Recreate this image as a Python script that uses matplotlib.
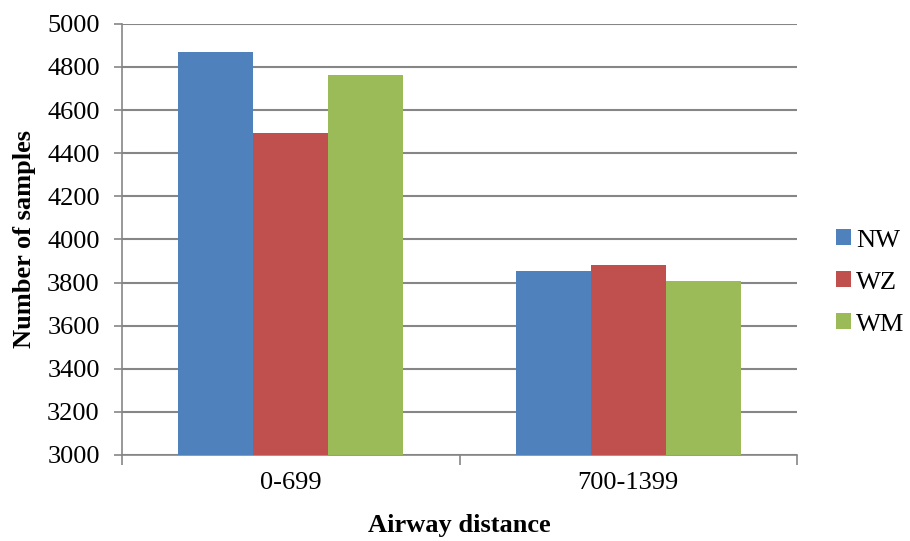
import numpy as np
import matplotlib.pyplot as plt
from matplotlib.ticker import FixedLocator

plt.rcParams['font.family'] = ['Liberation Serif', 'DejaVu Serif']

categories = ['0-699', '700-1399']
series = ['NW', 'WZ', 'WM']
values = {
    'NW': [4867, 3852],
    'WZ': [4495, 3882],
    'WM': [4763, 3809],
}
colors = ['#4F81BD', '#C0504D', '#9BBB59']

fig = plt.figure(figsize=(9.1, 5.41), dpi=100)
ax = fig.add_axes([0.134, 0.159, 0.742, 0.797])

x = np.arange(len(categories))
w = 1 / 4.5
for i, (name, c) in enumerate(zip(series, colors)):
    ax.bar(x + (i - 1) * w, values[name], width=w, color=c, label=name, zorder=3)

ax.set_xlim(-0.5, len(categories) - 0.5)
ax.set_ylim(3000, 5000)
ax.set_yticks(np.arange(3000, 5001, 200))
ax.set_xticks(x)
ax.set_xticklabels(categories)
ax.xaxis.set_minor_locator(FixedLocator([-0.5, 0.5, 1.5]))

grid_c = '#868686'
ax.yaxis.grid(True, color=grid_c, linewidth=1.5, zorder=0)
for s in ['top', 'right']:
    ax.spines[s].set_visible(False)
for s in ['left', 'bottom']:
    ax.spines[s].set_color(grid_c)
    ax.spines[s].set_linewidth(1.2)

fs = 19
ax.tick_params(axis='y', which='major', length=6, color=grid_c, width=1.2,
               labelsize=fs, pad=10)
ax.tick_params(axis='x', which='major', length=0, labelsize=fs, pad=12)
ax.tick_params(axis='x', which='minor', length=7, color=grid_c, width=1.2)

ax.set_xlabel('Airway distance', fontsize=fs, fontweight='bold', labelpad=15)
ax.set_ylabel('Number of samples', fontsize=fs, fontweight='bold', labelpad=8)

ax.legend(loc='center left', bbox_to_anchor=(1.058, 0.40), frameon=False,
          borderaxespad=0, borderpad=0,
          fontsize=fs, handlelength=0.55, handleheight=0.55, handletextpad=0.2,
          labelspacing=0.75)

fig.savefig('out.png', dpi=100)
